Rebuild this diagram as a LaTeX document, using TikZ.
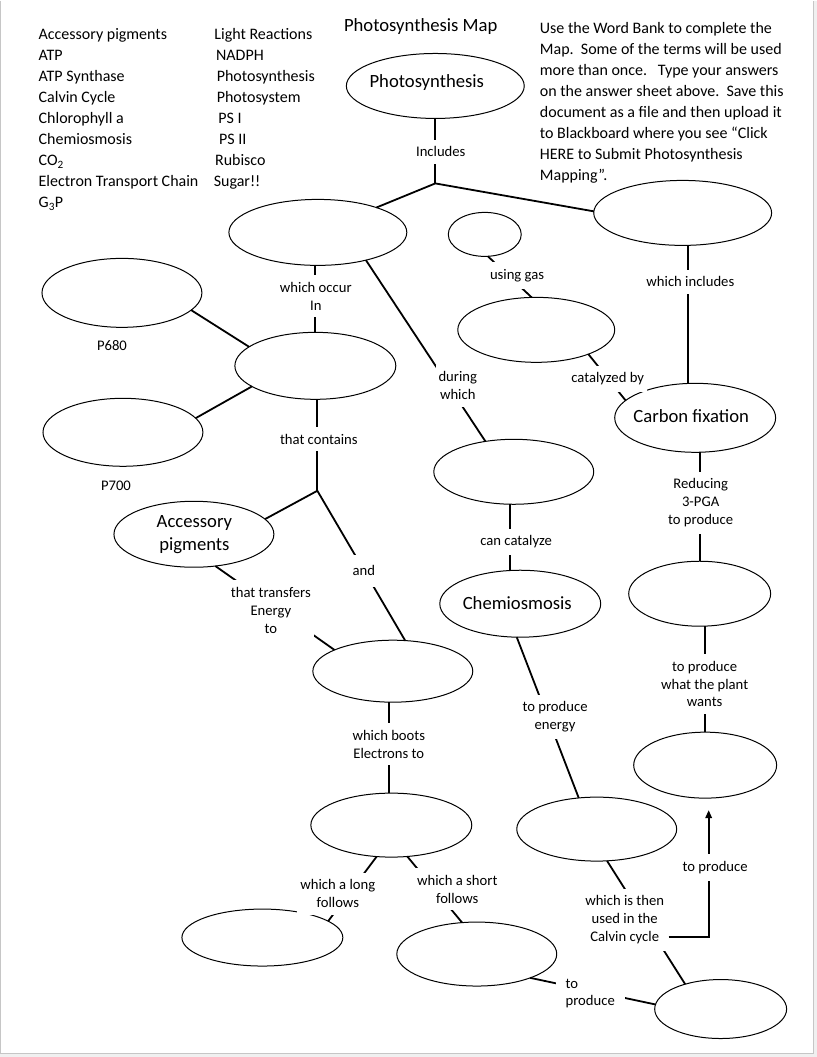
\documentclass[tikz,border=0pt]{standalone}
\usepackage{fontspec}
\setmainfont{Carlito}
\usetikzlibrary{shapes.geometric,arrows.meta}
\begin{document}
\begin{tikzpicture}[x=1pt,y=-1pt,
  ell/.style={draw, ellipse, line width=1pt, inner sep=0pt, outer sep=0pt},
  conn/.style={line width=1.8pt},
  lbl/.style={fill=white, inner xsep=3pt, inner ysep=7pt, align=center, font=\fontsize{14.67}{17.8}\selectfont},
  plain/.style={inner sep=0pt, anchor=base, font=\fontsize{14.67}{17.8}\selectfont},
  bank/.style={anchor=base west, inner sep=0pt, font=\fontsize{16}{21}\selectfont},
  big/.style={font=\fontsize{18.67}{23}\selectfont, inner sep=0pt, anchor=base}
]
% page
\fill[gray!12] (0,0) rectangle (817,1057);
\fill[white] (0.5,0) rectangle (813.7,1053.7);
\draw[gray!45, line width=1pt] (0.5,0) -- (0.5,1053.7) -- (813.7,1053.7) -- (813.7,0);
\useasboundingbox (0,0) rectangle (817,1057);

% word bank
\node[bank] (b1) at (38.5,39.5) {Accessory pigments};
\node[bank] (b2) at (38.5,60.5) {ATP};
\node[bank] (b3) at (38.5,81.5) {ATP Synthase};
\node[bank] (b4) at (38.5,102.5) {Calvin Cycle};
\node[bank] (b5) at (38.5,123.5) {Chlorophyll a};
\node[bank] (b6) at (38.5,144.5) {Chemiosmosis};
\node[bank] (b7) at (38.5,165.5) {CO\textsubscript{2}};
\node[bank] (b8) at (38.5,186.5) {Electron Transport Chain};
\node[bank] (b9) at (38.5,207.5) {G\textsubscript{3}P};
\node[bank] (c1) at (214.3,39.5) {Light Reactions};
\node[bank] (c2) at (216,60.5) {NADPH};
\node[bank] (c3) at (216.7,81.5) {Photosynthesis};
\node[bank] (c4) at (216.7,102.5) {Photosystem};
\node[bank] (c5) at (218.3,123.5) {PS I};
\node[bank] (c6) at (219,144.5) {PS II};
\node[bank] (c7) at (215,165.5) {Rubisco};
\node[bank] (c8) at (213.7,186.5) {Sugar!!};

% title and instructions
\node[big, anchor=base west] (title) at (344,31.5) {Photosynthesis Map};
\node[bank] (i1) at (540,33.3) {Use the Word Bank to complete the};
\node[bank] (i2) at (540,54.3) {Map.\ \ Some of the terms will be used};
\node[bank] (i3) at (540,75.3) {more than once.\ \ \ Type your answers};
\node[bank] (i4) at (540,96.3) {on the answer sheet above.\ \ Save this};
\node[bank] (i5) at (540,117.3) {document as a file and then upload it};
\node[bank] (i6) at (540,138.3) {to Blackboard where you see “Click};
\node[bank] (i7) at (540,159.3) {HERE to Submit Photosynthesis};
\node[bank] (i8) at (540,180.3) {Mapping”.};

% ellipses
\node[ell, minimum width=178pt, minimum height=65pt] (photo) at (435.5,85.5) {};
\node[ell, minimum width=178pt, minimum height=66pt] (light) at (318,232) {};
\node[ell, minimum width=73pt, minimum height=44pt] (gas) at (485,234) {};
\node[ell, minimum width=178pt, minimum height=65pt] (calvin) at (683,212.5) {};
\node[ell, minimum width=157pt, minimum height=65pt] (rubisco) at (536.5,329.5) {};
\node[ell, minimum width=161pt, minimum height=69pt] (carbon) at (695.5,417.5) {};
\node[ell, minimum width=160pt, minimum height=65pt] (synth) at (514,471.5) {};
\node[ell, minimum width=161pt, minimum height=67pt] (chemi) at (520.5,603.5) {};
\node[ell, minimum width=142pt, minimum height=65pt] (gthreep) at (700,593.5) {};
\node[ell, minimum width=143pt, minimum height=66pt] (sugar) at (705.5,765) {};
\node[ell, minimum width=160pt, minimum height=64pt] (atp) at (597,829) {};
\node[ell, minimum width=132pt, minimum height=59pt] (nadph) at (721,1009) {};
\node[ell, minimum width=160pt, minimum height=64pt] (shortE) at (477,954) {};
\node[ell, minimum width=161pt, minimum height=57pt] (longE) at (262.5,937.5) {};
\node[ell, minimum width=161pt, minimum height=64pt] (etc) at (391.5,825) {};
\node[ell, minimum width=160pt, minimum height=62pt] (pstwo) at (393,671) {};
\node[ell, minimum width=160pt, minimum height=66pt] (acc) at (194,534) {};
\node[ell, minimum width=161pt, minimum height=67pt] (ps) at (315.5,365.5) {};
\node[ell, minimum width=160pt, minimum height=69pt] (pa) at (122,292.5) {};
\node[ell, minimum width=160pt, minimum height=68pt] (pb) at (123,432) {};

% ellipse texts
\node[big] (tphoto) at (427,87.3) {Photosynthesis};
\node[big] (tcarbon) at (691.5,421.7) {Carbon fixation};
\node[big] (tchemi) at (517.5,609.3) {Chemiosmosis};
\node[big] (tacc1) at (194.5,527) {Accessory};
\node[big] (tacc2) at (194.5,550) {pigments};

% connectors
\coordinate (j1) at (435.5,183);
\coordinate (j2) at (317.5,490.5);
\draw[conn] (photo.south) -- (j1);
\draw[conn] (light.23) -- (j1) -- (calvin.179);
\draw[conn] (ps.north |- light.south) -- (ps.north);
\draw[conn] (light.-30.3) -- (synth.133.6);
\draw[conn] (gas.278) -- (rubisco.98);
\draw[conn] (rubisco.-25.4) -- (carbon.166);
\draw[conn] ([xshift=5pt]calvin.south) -- ([xshift=5pt]calvin.south |- carbon.north);
\draw[conn] (gthreep.north |- carbon.south) -- (gthreep.north);
\draw[conn] (sugar.north |- gthreep.south) -- (sugar.north);
\draw[conn] ([xshift=-3.5pt]synth.south) -- ([xshift=-3.5pt]synth.south |- chemi.north);
\draw[conn] (chemi.264.2) -- (atp.120.1);
\draw[conn] (atp.-72.6) -- (nadph.145.2);
\draw[conn] (shortE.-24.1) -- (nadph.176.5);
\draw[conn] (etc.245.6) -- (longE.14.7);
\draw[conn] (etc.-63.4) -- (shortE.115.8);
\draw[conn] ([xshift=-4pt]pstwo.south) -- ([xshift=-4pt]pstwo.south |- etc.north);
\draw[conn] (j2 |- ps.south) -- (j2);
\draw[conn] (acc.12.8) -- (j2) -- (pstwo.68.2);
\draw[conn] (acc.-56.7) -- (pstwo.160.7);
\draw[conn] (pa.-14.2) -- (ps.164.1);
\draw[conn] (pb.11.5) -- (ps.198.4);
\coordinate (ar0) at (669,937);
\coordinate (ar1) at (709,810);
\draw[conn, -{Triangle[length=8pt,width=6.5pt]}] (ar0) -| (ar1);

% connector labels
\node[lbl] (l1) at (441,151.5) {Includes};
\node[lbl] (l2) at (316,296) {which occur\\In};
\node[lbl] (l3) at (319,439) {that contains};
\node[lbl] (l4) at (517.3,275) {using gas};
\node[lbl] (l5) at (690.7,281.5) {which includes};
\node[lbl] (l6) at (458,385.4) {during\\which};
\node[lbl] (l7) at (608,378.5) {catalyzed by};
\node[lbl] (l8) at (701,502.4) {Reducing\\3-PGA\\to produce};
\node[lbl] (l9) at (516.3,541.8) {can catalyze};
\node[lbl] (l10) at (705,683.8) {to produce\\what the plant\\wants};
\node[lbl] (l11) at (555.3,716.6) {to produce\\energy};
\node[lbl, inner ysep=11pt] (l12) at (364,570.5) {and};
\node[lbl] (l13) at (271,610.2) {that transfers\\Energy\\to};
\node[lbl] (l14) at (389,744) {which boots\\Electrons to};
\node[lbl] (l15) at (338,893.6) {which a long\\follows};
\node[lbl] (l16) at (457.5,889) {which a short\\follows};
\node[lbl] (l17) at (625,919.5) {which is then\\used in the\\Calvin cycle};
\node[lbl] (l18) at (715.5,867.5) {to produce};
\node[lbl, align=left, inner xsep=10pt] (l19) at (590.5,993.6) {to\\produce};
\node[plain] (p680) at (112,350) {P680};
\node[plain] (p700) at (116,490.7) {P700};
\end{tikzpicture}
\end{document}
